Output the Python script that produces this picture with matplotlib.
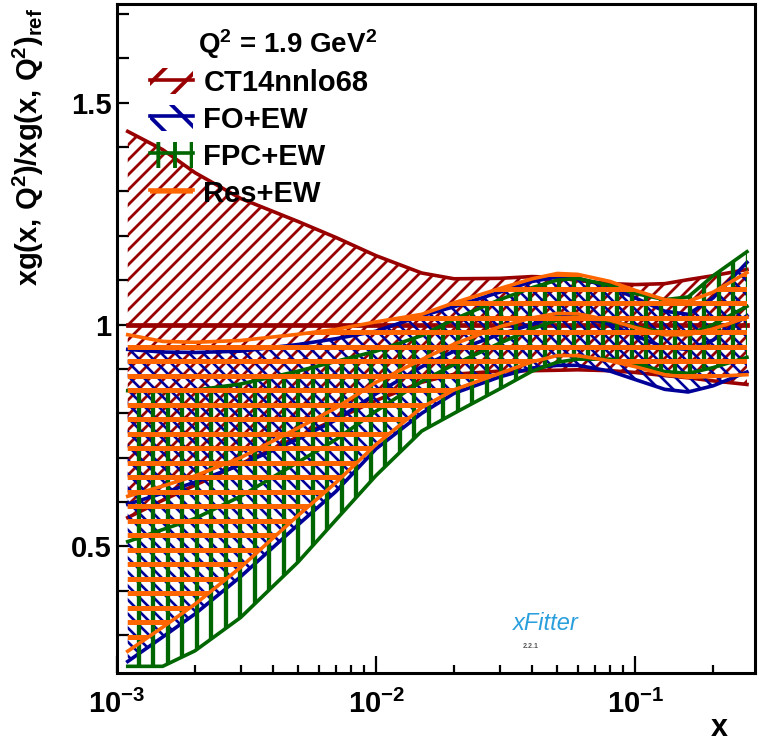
import numpy as np
import matplotlib
matplotlib.use('Agg')
import matplotlib.pyplot as plt
import matplotlib.ticker as ticker
from matplotlib.path import Path
from matplotlib.patches import PathPatch, Patch
from matplotlib.lines import Line2D
from matplotlib.collections import LineCollection

plt.rcParams['font.family'] = ['Liberation Sans', 'DejaVu Sans']
plt.rcParams['font.weight'] = 'bold'
plt.rcParams['mathtext.fontset'] = 'custom'
plt.rcParams['mathtext.rm'] = 'Liberation Sans:bold'
plt.rcParams['mathtext.it'] = 'Liberation Sans:italic:bold'
plt.rcParams['mathtext.bf'] = 'Liberation Sans:bold'
plt.rcParams['hatch.linewidth'] = 2.8

# x grid and ratio bands (upper / central / lower)
x = [0.0011, 0.0015, 0.002, 0.003, 0.005, 0.007, 0.01, 0.015, 0.02, 0.03,
     0.04, 0.05, 0.06, 0.08, 0.1, 0.13, 0.16, 0.2, 0.27]

ct14_up = [1.435, 1.394, 1.342, 1.284, 1.232, 1.196, 1.155, 1.116, 1.103, 1.104,
           1.108, 1.106, 1.099, 1.092, 1.090, 1.092, 1.101, 1.110, 1.124]
ct14_c = [1.0, 1.0, 1.0, 1.0, 1.0, 1.0, 1.0, 1.0, 1.0, 1.0,
          1.0, 1.0, 1.0, 1.0, 1.0, 1.0, 1.0, 1.0, 1.0]
ct14_lo = [0.565, 0.604, 0.638, 0.686, 0.747, 0.787, 0.829, 0.870, 0.888, 0.895,
           0.896, 0.897, 0.898, 0.896, 0.892, 0.885, 0.880, 0.873, 0.865]

fo_up = [0.944, 0.938, 0.937, 0.940, 0.955, 0.968, 0.985, 1.020, 1.040, 1.073,
         1.097, 1.107, 1.104, 1.085, 1.060, 1.030, 1.023, 1.060, 1.140]
fo_c = [0.595, 0.620, 0.645, 0.684, 0.742, 0.785, 0.844, 0.905, 0.940, 0.978,
        1.000, 1.020, 1.020, 1.000, 0.975, 0.948, 0.944, 0.965, 1.020]
fo_lo = [0.241, 0.296, 0.348, 0.432, 0.549, 0.624, 0.720, 0.800, 0.845, 0.882,
         0.902, 0.908, 0.908, 0.895, 0.876, 0.854, 0.848, 0.862, 0.893]

fpc_up = [0.851, 0.849, 0.852, 0.866, 0.895, 0.917, 0.940, 0.975, 1.012, 1.056,
          1.083, 1.100, 1.104, 1.088, 1.070, 1.056, 1.062, 1.110, 1.164]
fpc_c = [0.511, 0.538, 0.563, 0.613, 0.690, 0.741, 0.805, 0.872, 0.910, 0.958,
         0.990, 1.010, 1.016, 1.008, 0.995, 0.982, 0.977, 1.000, 1.041]
fpc_lo = [0.230, 0.230, 0.265, 0.340, 0.465, 0.560, 0.660, 0.760, 0.800, 0.855,
          0.895, 0.915, 0.922, 0.922, 0.912, 0.894, 0.890, 0.903, 0.926]

res_up = [0.977, 0.962, 0.960, 0.964, 0.978, 0.989, 1.006, 1.023, 1.049, 1.081,
          1.103, 1.115, 1.113, 1.097, 1.077, 1.056, 1.052, 1.073, 1.117]
res_c = [0.613, 0.636, 0.659, 0.700, 0.767, 0.812, 0.870, 0.921, 0.956, 0.995,
         1.015, 1.025, 1.024, 1.010, 0.993, 0.977, 0.977, 0.990, 1.016]
res_lo = [0.264, 0.318, 0.370, 0.453, 0.570, 0.644, 0.730, 0.813, 0.853, 0.890,
          0.916, 0.930, 0.930, 0.918, 0.905, 0.887, 0.881, 0.883, 0.887]

labels = ['CT14nnlo68', 'FO+EW', 'FPC+EW', 'Res+EW']
colors = ['#990000', '#000099', '#006600', '#ff6600']
hatches = ['/', '\\', '|', '-']
hatch_lw = [2.0, 1.9, 3.1, 3.6]
hatch_step = [15, 14, 14.5, 14.5]
bands = [(ct14_up, ct14_c, ct14_lo), (fo_up, fo_c, fo_lo),
         (fpc_up, fpc_c, fpc_lo), (res_up, res_c, res_lo)]

fig = plt.figure(figsize=(7.61, 7.49), dpi=100)
W, H = 638, 669  # axes size in pixels
ax = fig.add_axes([117 / 761, 76 / 749, W / 761, H / 749])


def hatch_segments(kind, step):
    # hatch lines in axes coordinates, spaced in pixels
    segs = []
    if kind == '-':
        for yy in np.arange(step / 2, H, step):
            segs.append([(0, yy / H), (1, yy / H)])
    elif kind == '|':
        for xx in np.arange(step / 2, W, step):
            segs.append([(xx / W, 0), (xx / W, 1)])
    elif kind == '/':
        for c in np.arange(-W, H, step):
            segs.append([(0, c / H), (1, (W + c) / H)])
    else:
        for c in np.arange(0, W + H, step):
            segs.append([(0, c / H), (1, (c - W) / H)])
    return segs


for i, ((up, cen, lo), col, hk, hlw, hs) in enumerate(
        zip(bands, colors, hatches, hatch_lw, hatch_step)):
    verts = list(zip(x, up)) + list(zip(x[::-1], lo[::-1]))
    verts.append(verts[0])
    clip = PathPatch(Path(verts, closed=True), transform=ax.transData,
                     facecolor='none', edgecolor='none')
    ax.add_patch(clip)
    lc = LineCollection(hatch_segments(hk, hs), transform=ax.transAxes,
                        colors=col, linewidths=hlw)
    lc.set_clip_path(clip)
    ax.add_collection(lc, autolim=False)
    ax.plot(x, up, color=col, lw=2.6)
    ax.plot(x, cen, color=col, lw=3.4 if i == 0 else 2.6)
    ax.plot(x, lo, color=col, lw=2.6)

ax.set_xscale('log')
ax.set_xlim(1e-3, 0.29)
ax.set_ylim(0.215, 1.722)

ax.xaxis.set_major_locator(ticker.LogLocator(base=10))
ax.xaxis.set_minor_locator(ticker.LogLocator(base=10, subs=np.arange(2, 10)))
ax.xaxis.set_minor_formatter(ticker.NullFormatter())
ax.yaxis.set_major_locator(ticker.MultipleLocator(0.5))
ax.yaxis.set_minor_locator(ticker.MultipleLocator(0.1))
ax.yaxis.set_major_formatter(ticker.FormatStrFormatter('%g'))

ax.tick_params(axis='x', which='major', direction='in', length=12, width=1.6,
               labelsize=21, pad=12, top=False)
ax.tick_params(axis='x', which='minor', direction='in', length=6, width=1.6, top=False)
ax.tick_params(axis='y', which='both', direction='in', length=8.6, width=1.6,
               labelsize=21, pad=4, right=False)
for sp in ax.spines.values():
    sp.set_linewidth(2.2)

# legend
handles = [(Patch(facecolor='none', edgecolor=col, hatch=hk, lw=0),
            Line2D([], [], color=col, lw=2.6))
           for col, hk in zip(colors, hatches)]
ax.legend(handles, labels, loc='upper left', bbox_to_anchor=(150 / 761, 1 - 68 / 749),
          bbox_transform=fig.transFigure, frameon=False, fontsize=21,
          handlelength=1.48, handleheight=1.0, handletextpad=0.35,
          labelspacing=0.27, borderpad=0, borderaxespad=0)

fig.text(198 / 761, 1 - 44 / 749, r'Q$^{2}$ = 1.9 GeV$^{2}$', fontsize=20,
         ha='left', va='center')
fig.text(28 / 761, 1 - 8 / 749, r'xg(x, Q$^{2}$)/xg(x, Q$^{2}$)$_{\rm ref}$',
         rotation=90, ha='center', va='top', fontsize=21)
fig.text(728 / 761, 1 - 728 / 749, 'x', ha='right', va='center', fontsize=22,
         fontweight='bold')

# xFitter tag
fig.text(546 / 761, 1 - 623 / 749, 'xFitter', style='italic', color='#2a9fdc',
         fontsize=17, fontweight='normal', ha='center', va='center')
fig.text(531 / 761, 1 - 647 / 749, '2.2.1', fontsize=5, color='#555555',
         ha='center', va='center')

fig.savefig('out.png', dpi=100)
